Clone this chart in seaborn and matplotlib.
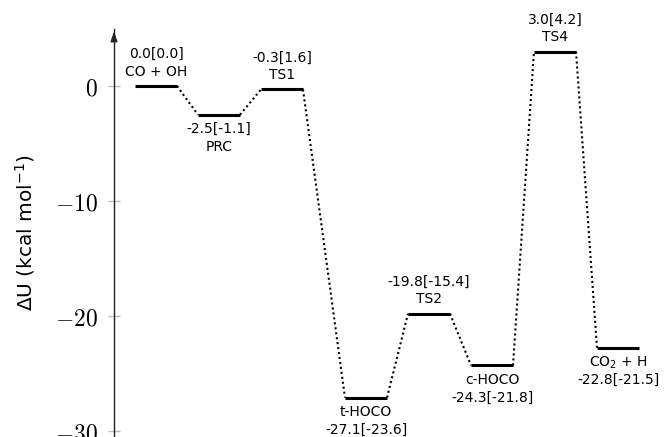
import matplotlib
matplotlib.use("Agg")
import matplotlib.pyplot as plt
import seaborn as sns
import pandas as pd

# ---- data ----
states = ["CO + OH", "PRC", "TS1", "t-HOCO", "TS2", "c-HOCO", "TS4", "CO$_2$ + H"]
energies = [0.0, -2.5, -0.3, -27.1, -19.8, -24.3, 3.0, -22.8]
energies_ref = [0.0, -1.1, 1.6, -23.6, -15.4, -21.8, 4.2, -21.5]
x_starts = [0, 3, 6, 10, 13, 16, 19, 22]
label_side = ["above", "below", "above", "below", "above", "below", "above", "below"]
name_near = [True, False, True, True, True, True, True, True]
level_width = 2
yticks = [0, -10, -20, -30]
ytick_labels = [r"$0$", r"$-10$", r"$-20$", r"$-30$"]

sns.set_theme(style="white")
plt.rcParams["font.family"] = ["DejaVu Sans"]
plt.rcParams["mathtext.fontset"] = "dejavusans"

W, H = 664, 437
fig = plt.figure(figsize=(W / 100, H / 100), dpi=100)

# axes placement (pixels)
ax_left_px, ax_right_px = 114, 655
ax_top_px, ax_bot_px = 28.5, 442.5
ax = fig.add_axes([ax_left_px / W, (H - ax_bot_px) / H,
                   (ax_right_px - ax_left_px) / W, (ax_bot_px - ax_top_px) / H])

# level segments
lev_rows = []
for s, e, x0 in zip(states, energies, x_starts):
    lev_rows.append({"state": s, "x": x0, "E": e})
    lev_rows.append({"state": s, "x": x0 + level_width, "E": e})
lev_df = pd.DataFrame(lev_rows)

# connectors
con_rows = []
for i in range(len(states) - 1):
    con_rows.append({"seg": i, "x": x_starts[i] + level_width, "E": energies[i]})
    con_rows.append({"seg": i, "x": x_starts[i + 1], "E": energies[i + 1]})
con_df = pd.DataFrame(con_rows)

sns.lineplot(data=con_df, x="x", y="E", units="seg", estimator=None, sort=False,
             color="black", lw=1.5, linestyle=(0, (1, 1.4)), ax=ax, legend=False)
sns.lineplot(data=lev_df, x="x", y="E", units="state", estimator=None, sort=False,
             color="black", lw=2.2, ax=ax, legend=False, solid_capstyle="butt")

# labels
for s, e, er, x0, side, nn in zip(states, energies, energies_ref, x_starts, label_side, name_near):
    xc = x0 + level_width / 2
    etxt = f"{e:.1f}[{er:.1f}]"
    if nn:
        near, far = s, etxt
    else:
        near, far = etxt, s
    sign = 1 if side == "above" else -1
    ax.annotate(near, (xc, e), xytext=(0, sign * 14.5), textcoords="offset pixels",
                ha="center", va="center", fontsize=10, color="black")
    ax.annotate(far, (xc, e), xytext=(0, sign * 32), textcoords="offset pixels",
                ha="center", va="center", fontsize=10, color="black")

ax.set_xlim(-1, -1 + (ax_right_px - ax_left_px) / 21)
ax.set_ylim(-31, 5)

for sp in ["top", "right", "bottom"]:
    ax.spines[sp].set_visible(False)
ax.spines["left"].set_color("#222222")
ax.spines["left"].set_linewidth(1.0)
ax.set_xticks([])
ax.set_xlabel("")
ax.set_yticks(yticks, labels=ytick_labels, math_fontfamily="cm", fontsize=17)
ax.tick_params(axis="y", direction="inout", length=9, width=1, color="#bbbbbb", pad=7,
               left=True, labelcolor="black")

# arrow head on y axis
ax.annotate("", xy=(-1, 5.0), xytext=(-1, 4.0), xycoords="data",
            arrowprops=dict(arrowstyle="-|>,head_length=0.5,head_width=0.17",
                            color="#222222", lw=1.0), annotation_clip=False)

ax.set_ylabel(r"$\Delta$U (kcal mol$^{-1}$)", fontsize=14.5, color="black")
ax.yaxis.set_label_coords((37 - ax_left_px) / (ax_right_px - ax_left_px), 0.508)

fig.savefig("out.png", dpi=100)
